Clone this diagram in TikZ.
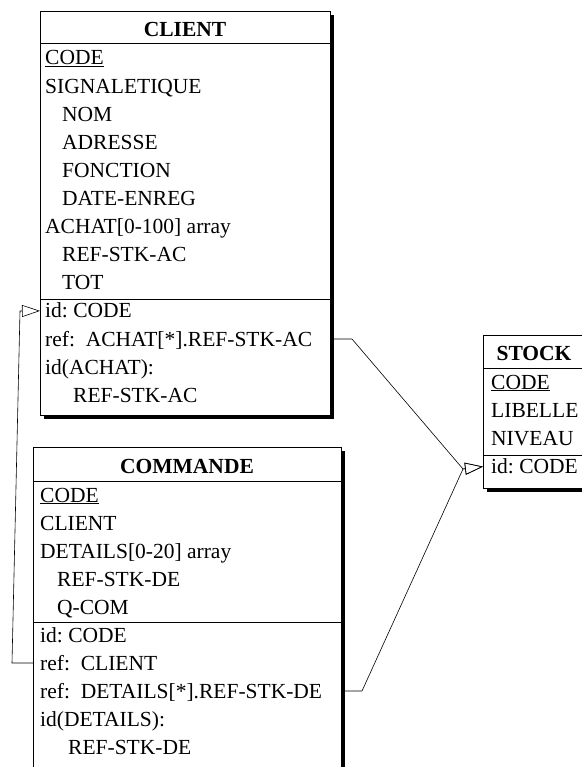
\documentclass[tikz,border=0pt]{standalone}
\usepackage{fontspec}
\setmainfont{Liberation Serif}
\usetikzlibrary{arrows.meta,calc,shadows}
\frenchspacing

\begin{document}
\begin{tikzpicture}[x=1pt,y=-1pt,
 entity/.style={draw,line width=0.6pt,fill=white,anchor=north west,inner sep=0pt,outer sep=0pt,
  drop shadow={shadow xshift=4pt,shadow yshift=-4pt,fill=black,opacity=1}},
 title/.style={font=\fontsize{21.5}{24}\selectfont\bfseries,anchor=base,inner sep=0pt},
 attr/.style={font=\fontsize{21.5}{24}\selectfont,anchor=base west,inner sep=0pt,text height=15pt,text depth=1pt},
 sep/.style={line width=0.6pt},
 isa/.style={line width=0.6pt,-{Triangle[open,length=18pt,width=12pt]}}
]
\useasboundingbox (0,0) rectangle (581,767);

% entity boxes
\node[entity,minimum width=290pt,minimum height=404pt] (client) at (40,11) {};
\node[entity,minimum width=308pt,minimum height=330pt] (commande) at (33,447) {};
\node[entity,minimum width=102pt,minimum height=153pt] (stock) at (483,335) {};

% CLIENT
\node[title] (clt) at (185,37) {CLIENT};
\draw[sep] ($(client.north west)+(0,32)$) -- ($(client.north east)+(0,32)$);
\draw[sep] ($(client.north west)+(0,288)$) -- ($(client.north east)+(0,288)$);
\foreach \dx/\txt [count=\i] in {0/\underline{CODE},0/SIGNALETIQUE,17/NOM,17/ADRESSE,17/FONCTION,
  17/DATE-ENREG,0/{ACHAT[0-100] array},17/REF-STK-AC,17/TOT,0/id: CODE,
  0/{ref:\ \ ACHAT[*].REF-STK-AC},0/id(ACHAT):,28/REF-STK-AC}
 \node[attr] (cl\i) at ({45+\dx},{65+28.1*(\i-1)}) {\txt};

% COMMANDE
\node[title] (cmt) at (187,473) {COMMANDE};
\draw[sep] ($(commande.north west)+(0,34)$) -- ($(commande.north east)+(0,34)$);
\draw[sep] ($(commande.north west)+(0,175)$) -- ($(commande.north east)+(0,175)$);
\foreach \dx/\txt [count=\i] in {0/\underline{CODE},0/CLIENT,0/{DETAILS[0-20] array},17/REF-STK-DE,
  17/Q-COM,0/id: CODE,0/{ref:\ \ CLIENT},0/{ref:\ \ DETAILS[*].REF-STK-DE},0/id(DETAILS):,28/REF-STK-DE}
 \node[attr] (cm\i) at ({40+\dx},{502+28*(\i-1)}) {\txt};

% STOCK
\node[title] (stt) at (534,360) {STOCK};
\draw[sep] ($(stock.north west)+(0,33)$) -- ($(stock.north east)+(0,33)$);
\draw[sep] ($(stock.north west)+(0,120)$) -- ($(stock.north east)+(0,120)$);
\foreach \txt [count=\i] in {\underline{CODE},LIBELLE,NIVEAU,id: CODE}
 \node[attr] (st\i) at (491,{389+28.2*(\i-1)}) {\txt};

% references
\draw[isa] (cl11.west -| client.east) -- ++(22,0) -- (463,469) -- (st4.west -| stock.west);
\draw[isa] (cm8.west -| commande.east) -- ++(21,0) -- (463,469) -- (st4.west -| stock.west);
\draw[isa] (cm7.west -| commande.west) -- ++(-21,0) -- (20,311) -- (cl10.west -| client.west);
\end{tikzpicture}
\end{document}
